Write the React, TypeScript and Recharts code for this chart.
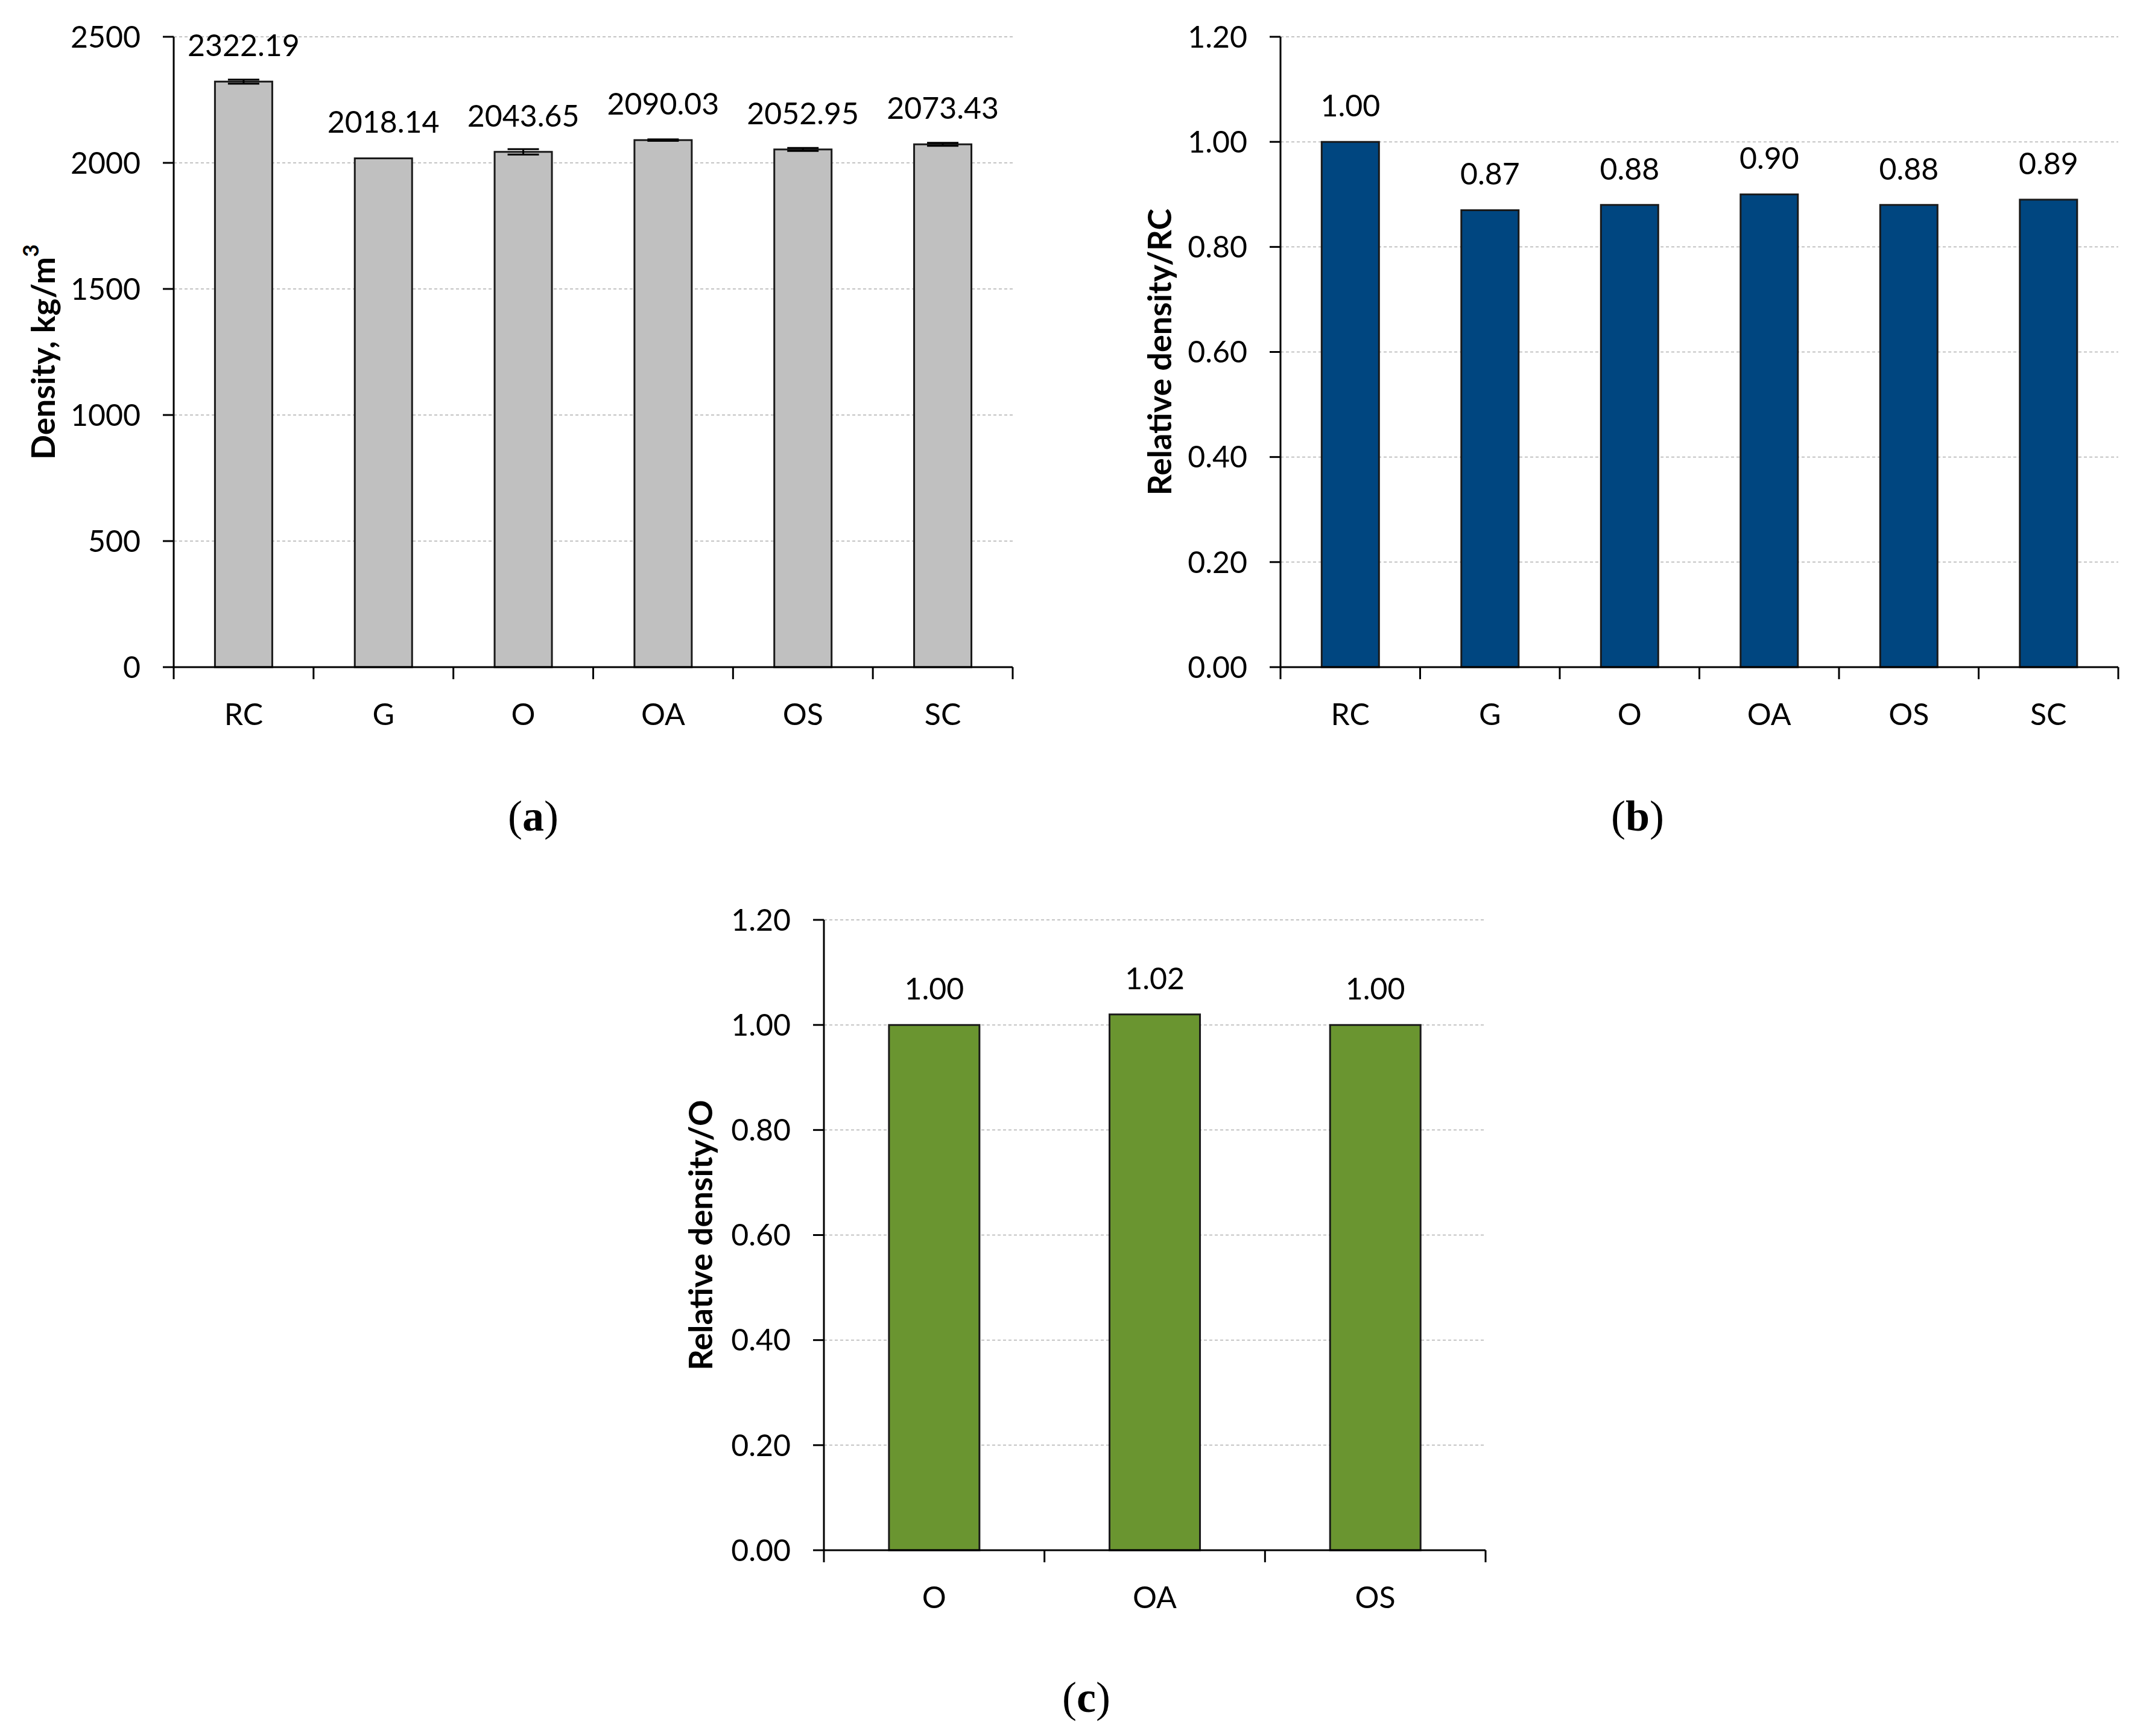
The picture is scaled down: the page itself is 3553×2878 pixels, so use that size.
import React from "react";
import {
  Bar,
  BarChart,
  CartesianGrid,
  ErrorBar,
  LabelList,
  XAxis,
  YAxis,
} from "recharts";

// density of each mix, kg/m3, with the standard deviation
const mixes = ["RC", "G", "O", "OA", "OS", "SC"];
const densities = [2322.19, 2018.14, 2043.65, 2090.03, 2052.95, 2073.43];
const densityErrors = [8, 0, 11, 3, 6, 6];
const densityTicks = [0, 500, 1000, 1500, 2000, 2500];

// density relative to the reference concrete
const relativeToRC = [1.0, 0.87, 0.88, 0.9, 0.88, 0.89];

// density of the oil mixes relative to O
const oilMixes = ["O", "OA", "OS"];
const relativeToO = [1.0, 1.02, 1.0];

const ratioTicks = [0, 0.2, 0.4, 0.6, 0.8, 1.0, 1.2];

const FONT = "Lato, 'Open Sans', sans-serif";
const SERIF = "'Liberation Serif', 'DejaVu Serif', serif";
const FONT_SIZE = 50;
const AXIS_W = 140;
const XAXIS_H = 100;

type Row = { mix: string; value: number; err?: number };

type PanelLayout = {
  left: number;
  top: number;
  width: number;
  height: number;
  plot: { x: number; y: number; w: number; h: number };
  titleX: number;
  caption: { x: number; y: number };
};

function CategoryTick(props: any) {
  const { x, y, payload, index, count, half } = props;
  const h = payload?.offset || half;
  return (
    <g>
      <line x1={x - h} x2={x - h} y1={y} y2={y + 20} stroke="#000" strokeWidth={3} />
      {index === count - 1 && (
        <line x1={x + h} x2={x + h} y1={y} y2={y + 20} stroke="#000" strokeWidth={3} />
      )}
      <text
        x={x}
        y={y + 96}
        textAnchor="middle"
        fontSize={FONT_SIZE}
        fontFamily={FONT}
        fill="#000"
      >
        {payload.value}
      </text>
    </g>
  );
}

function Panel({
  layout,
  data,
  domain,
  ticks,
  decimals,
  fill,
  title,
  letter,
  withErrors,
}: {
  layout: PanelLayout;
  data: Row[];
  domain: [number, number];
  ticks: number[];
  decimals: number;
  fill: string;
  title: React.ReactNode;
  letter: string;
  withErrors?: boolean;
}) {
  const { plot } = layout;
  const chartHeight = plot.y + plot.h + XAXIS_H + 10;
  const margin = {
    top: plot.y,
    left: plot.x - AXIS_W,
    right: layout.width - plot.x - plot.w,
    bottom: chartHeight - plot.y - plot.h - XAXIS_H,
  };
  const half = plot.w / data.length / 2;

  return (
    <div
      style={{
        position: "absolute",
        left: layout.left,
        top: layout.top,
        width: layout.width,
        height: layout.height,
      }}
    >
      <BarChart
        width={layout.width}
        height={chartHeight}
        data={data}
        margin={margin}
        barCategoryGap="29.5%"
      >
        <CartesianGrid
          vertical={false}
          stroke="#C4C4C4"
          strokeWidth={2}
          strokeDasharray="5 4"
        />
        <XAxis
          dataKey="mix"
          height={XAXIS_H}
          interval={0}
          tickSize={0}
          tickMargin={0}
          tickLine={false}
          axisLine={{ stroke: "#000", strokeWidth: 3 }}
          tick={(p: any) => (
            <CategoryTick {...p} count={data.length} half={half} />
          )}
        />
        <YAxis
          type="number"
          width={AXIS_W}
          domain={domain}
          ticks={ticks}
          interval={0}
          tickSize={18}
          tickMargin={37}
          tickFormatter={(v: number) => v.toFixed(decimals)}
          axisLine={{ stroke: "#000", strokeWidth: 3 }}
          tickLine={{ stroke: "#000", strokeWidth: 3 }}
          tick={{ fill: "#000", fontSize: FONT_SIZE, fontFamily: FONT }}
        />
        <Bar
          dataKey="value"
          fill={fill}
          stroke="#1A1A1A"
          strokeWidth={3}
          isAnimationActive={false}
        >
          {withErrors && (
            <ErrorBar
              dataKey="err"
              direction="y"
              width={26}
              stroke="#000"
              strokeWidth={3}
            />
          )}
          <LabelList
            dataKey="value"
            position="top"
            offset={42}
            formatter={(v: any) => Number(v).toFixed(2)}
            fill="#000"
            fontSize={FONT_SIZE}
            fontFamily={FONT}
          />
        </Bar>
      </BarChart>
      <svg
        width={layout.width}
        height={layout.height}
        style={{ position: "absolute", left: 0, top: 0, pointerEvents: "none" }}
      >
        <text
          transform={`translate(${layout.titleX}, ${plot.y + plot.h / 2}) rotate(-90)`}
          textAnchor="middle"
          dominantBaseline="central"
          fontFamily={FONT}
          fontWeight="bold"
          fontSize={54}
          fill="#000"
        >
          {title}
        </text>
        <text
          x={layout.caption.x}
          y={layout.caption.y}
          textAnchor="middle"
          dominantBaseline="central"
          fontFamily={SERIF}
          fontSize={72}
          fill="#000"
        >
          (<tspan fontWeight="bold">{letter}</tspan>)
        </text>
      </svg>
    </div>
  );
}

const layoutA: PanelLayout = {
  left: 0,
  top: 0,
  width: 1760,
  height: 1420,
  plot: { x: 288, y: 61, w: 1391, h: 1045 },
  titleX: 70,
  caption: { x: 884, y: 1353 },
};

const layoutB: PanelLayout = {
  left: 1760,
  top: 0,
  width: 1793,
  height: 1420,
  plot: { x: 363, y: 61, w: 1389, h: 1045 },
  titleX: 161,
  caption: { x: 955, y: 1353 },
};

const layoutC: PanelLayout = {
  left: 1040,
  top: 1420,
  width: 1500,
  height: 1458,
  plot: { x: 326, y: 105, w: 1097, h: 1045 },
  titleX: 120,
  caption: { x: 761, y: 1394 },
};

export default function App() {
  const densityRows: Row[] = mixes.map((mix, i) => ({
    mix,
    value: densities[i],
    err: densityErrors[i],
  }));
  const rcRows: Row[] = mixes.map((mix, i) => ({ mix, value: relativeToRC[i] }));
  const oRows: Row[] = oilMixes.map((mix, i) => ({ mix, value: relativeToO[i] }));

  return (
    <div
      style={{
        position: "absolute",
        left: 0,
        top: 0,
        width: 3553,
        height: 2878,
        background: "#fff",
        overflow: "hidden",
      }}
    >
      <Panel
        layout={layoutA}
        data={densityRows}
        domain={[0, 2500]}
        ticks={densityTicks}
        decimals={0}
        fill="#C0C0C0"
        withErrors
        letter="a"
        title={
          <>
            Density, kg/m
            <tspan dy={-20} fontSize={36}>
              3
            </tspan>
          </>
        }
      />
      <Panel
        layout={layoutB}
        data={rcRows}
        domain={[0, 1.2]}
        ticks={ratioTicks}
        decimals={2}
        fill="#004680"
        letter="b"
        title="Relative density/RC"
      />
      <Panel
        layout={layoutC}
        data={oRows}
        domain={[0, 1.2]}
        ticks={ratioTicks}
        decimals={2}
        fill="#6A9530"
        letter="c"
        title="Relative density/O"
      />
    </div>
  );
}
